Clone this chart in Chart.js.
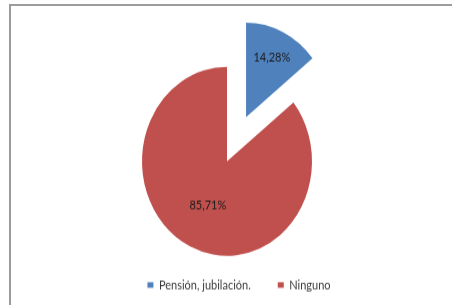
<!DOCTYPE html>
<html>
<head>
<meta charset="utf-8">
<script src="https://cdn.jsdelivr.net/npm/chart.js@4.4.1/dist/chart.umd.min.js"></script>
<style>
  html, body { margin: 0; padding: 0; background: #ffffff; width: 452px; height: 305px; overflow: hidden; }
  #frame { position: absolute; left: 9px; top: 4px; width: 443px; height: 301px;
           border-top: 2px solid #9c9c9c; border-left: 2px solid #9c9c9c; overflow: hidden; background:#fff; }
  #wrap { position: absolute; left: 0; top: 0; width: 441px; height: 269px;
          transform: scaleY(1.1115); transform-origin: 0 0; }
</style>
</head>
<body>
<div id="frame"><div id="wrap"><canvas id="c" width="441" height="269"></canvas></div></div>
<script>
const categories = ["Pensión, jubilación.", "Ninguno"];
const values = [14.28, 85.71];
const valueLabels = ["14,28%", "85,71%"];
const colors = ["#4F81BD", "#C0504D"];

// narrows the plot area on the right so the pie sits left of the legend centre
const plotAreaPlugin = {
  id: 'plotArea',
  afterLayout(chart, args, opts) {
    const a = chart.chartArea;
    a.right -= opts.rightInset || 0;
    a.width = a.right - a.left;
  }
};

const explodePlugin = {
  id: 'explode',
  afterDatasetUpdate(chart, args, opts) {
    const dist = opts.distance || [];
    args.meta.data.forEach((arc, i) => {
      const d = dist[i] || 0;
      if (!d) return;
      const mid = (arc.startAngle + arc.endAngle) / 2;
      arc.x += Math.cos(mid) * d;
      arc.y += Math.sin(mid) * d;
    });
  }
};

const labelPlugin = {
  id: 'sliceLabels',
  afterDatasetsDraw(chart, args, opts) {
    const ctx = chart.ctx;
    const meta = chart.getDatasetMeta(0);
    ctx.save();
    ctx.font = opts.font;
    ctx.fillStyle = opts.color;
    ctx.textAlign = 'center';
    ctx.textBaseline = 'middle';
    meta.data.forEach((arc, i) => {
      const mid = (arc.startAngle + arc.endAngle) / 2;
      const r = arc.outerRadius * (opts.radiusFraction[i] || 0.6);
      ctx.fillText(valueLabels[i], arc.x + Math.cos(mid) * r, arc.y + Math.sin(mid) * r);
    });
    ctx.restore();
  }
};

new Chart(document.getElementById('c'), {
  type: 'pie',
  data: {
    labels: categories,
    datasets: [{
      data: values,
      backgroundColor: colors,
      borderWidth: 0,
      radius: 85,
      clip: false
    }]
  },
  options: {
    responsive: false,
    animation: false,
    events: [],
    layout: { padding: { left: 15, right: 0, top: 61, bottom: 2.5 } },
    plugins: {
      tooltip: { enabled: false },
      plotArea: { rightInset: 24 },
      explode: { distance: [44, 0] },
      sliceLabels: { font: '11px Lato', color: '#1a1a1a', radiusFraction: [0.70, 0.52] },
      legend: {
        position: 'bottom',
        align: 'center',
        labels: {
          font: { family: 'Lato', size: 11 },
          color: '#3a3a3a',
          boxWidth: 6,
          boxHeight: 5,
          padding: 27
        }
      }
    }
  },
  plugins: [plotAreaPlugin, explodePlugin, labelPlugin]
});
</script>
</body>
</html>
